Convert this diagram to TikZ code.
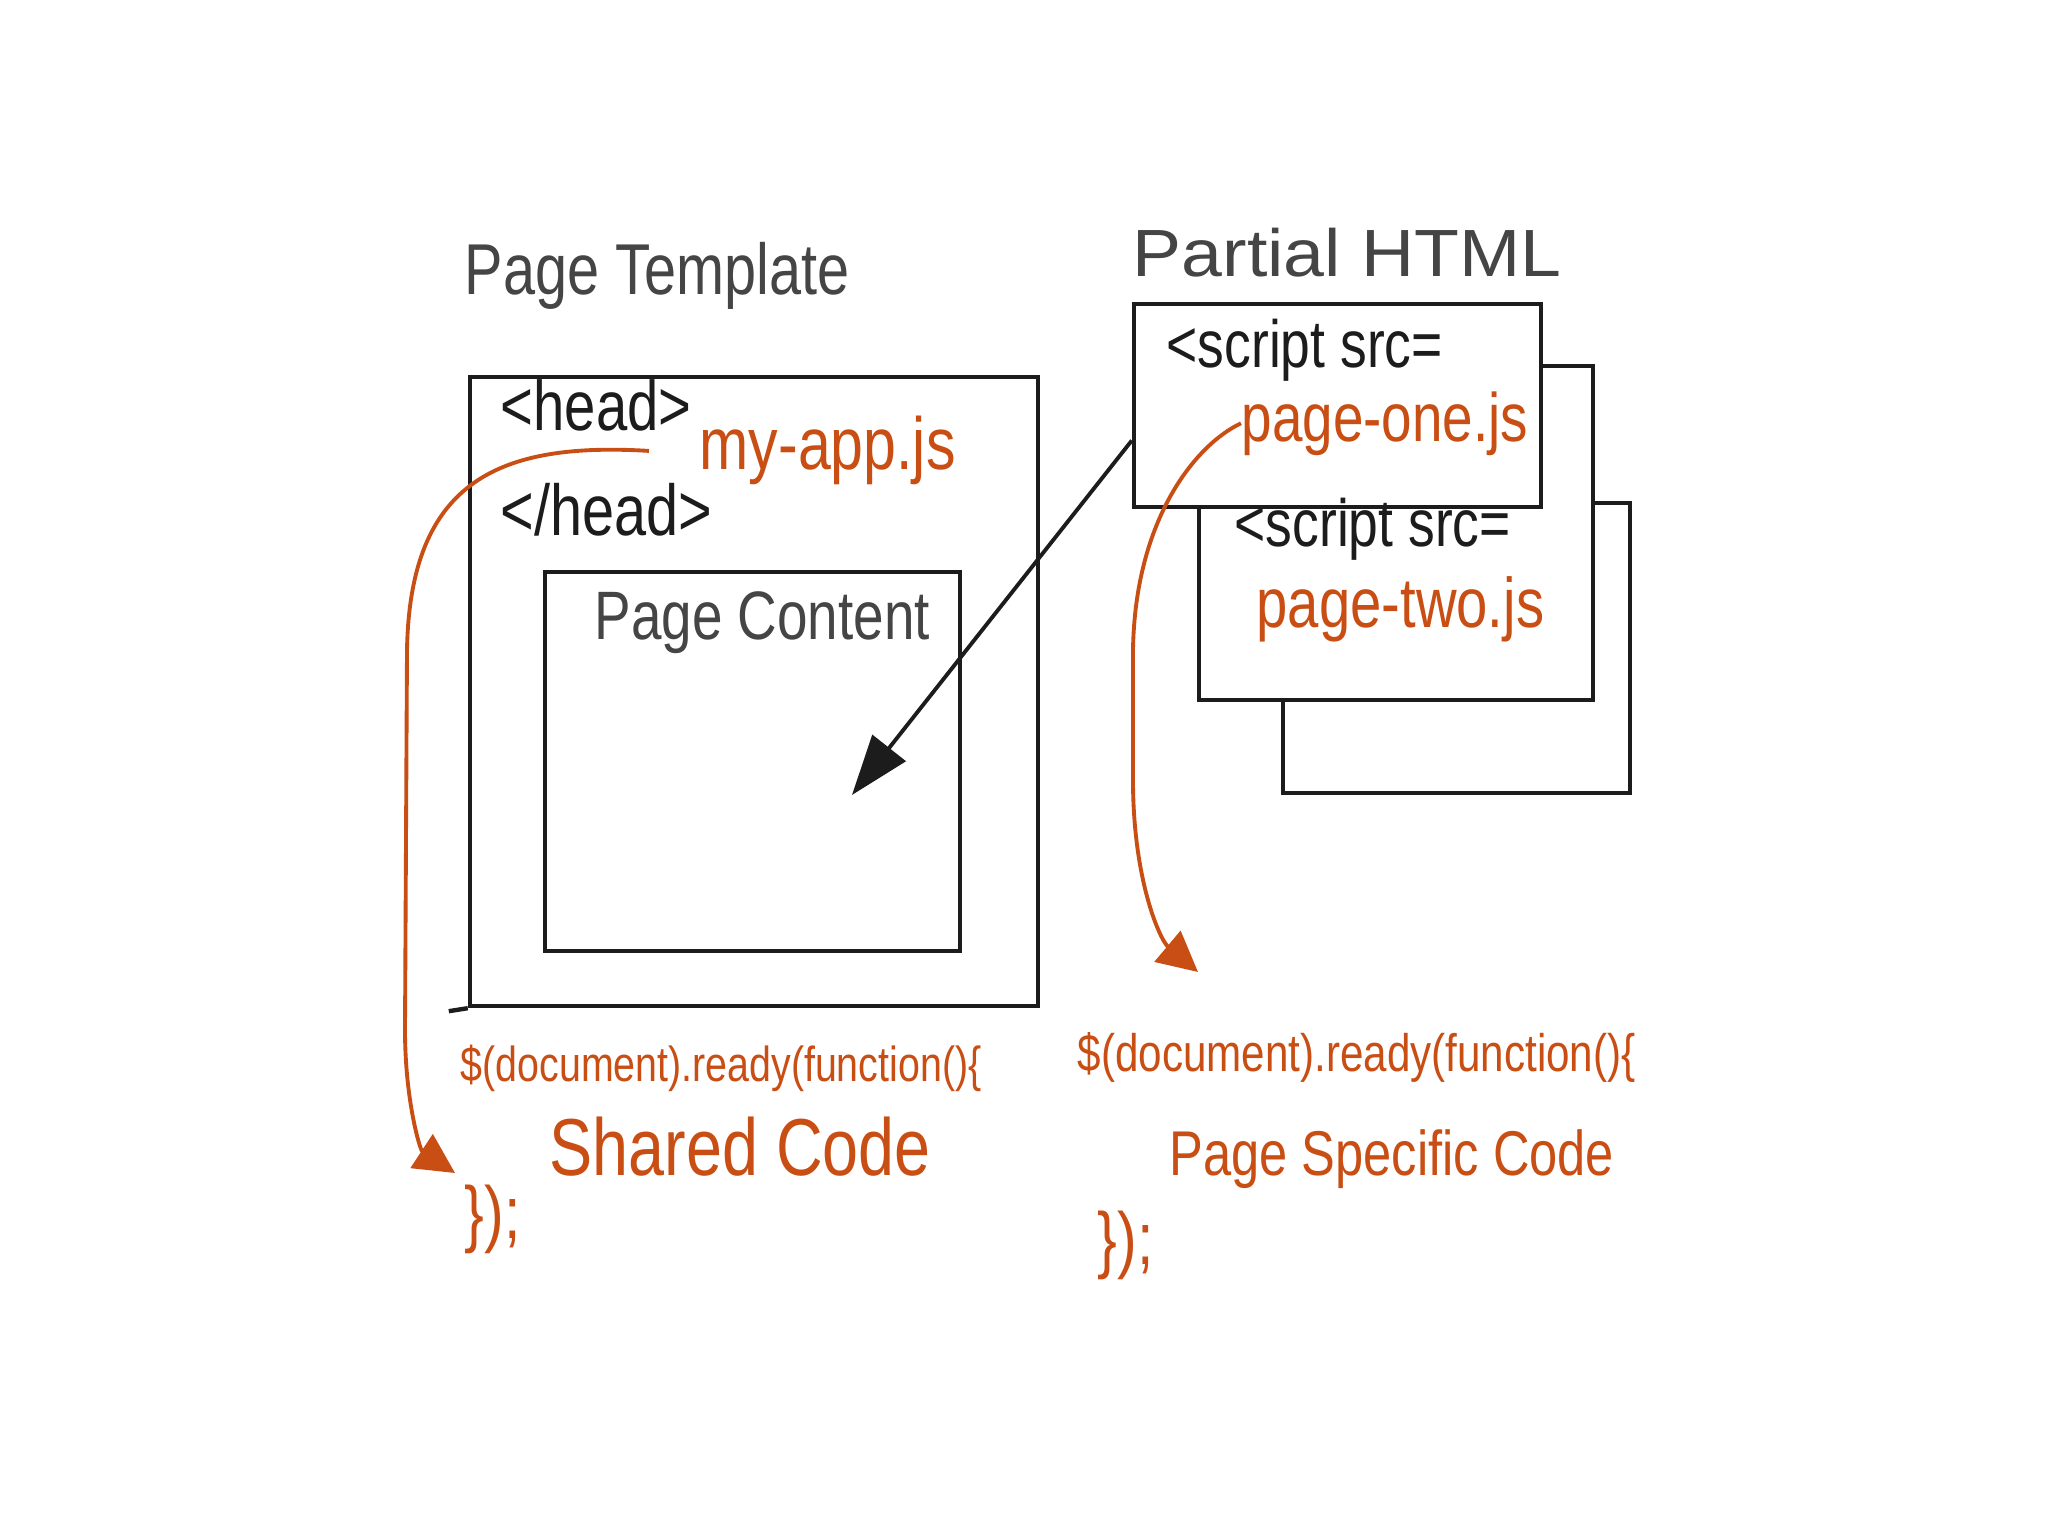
\documentclass[tikz,border=0pt]{standalone}
\usepackage{fontspec}
\newfontfamily\handfont[FakeStretch=0.8]{Liberation Sans}
\newfontfamily\wideface[FakeStretch=1.1]{Liberation Sans}
\usepackage{xcolor}
\usetikzlibrary{arrows.meta}

\definecolor{ink}{HTML}{1C1C1C}
\definecolor{pencil}{HTML}{454545}
\definecolor{jsorange}{HTML}{C94E14}

\begin{document}
\begin{tikzpicture}[
  box/.style={
    rectangle,
    draw=ink,
    line width=1.25pt
  },
  hand/.style={
    font=\handfont\fontsize{#1}{#1}\selectfont,
    inner sep=0pt,
    anchor=base west,
    text=ink
  },
  pointer/.style={-{Triangle[length=6mm,width=4.2mm]}, draw=ink, line width=1.1pt},
  jsline/.style={-{Triangle[length=4mm,width=4mm]}, draw=jsorange, line width=1.1pt}
]

\fill[white] (0,0) rectangle (20.48,-15.36);
\useasboundingbox (0,0) rectangle (20.48,-15.36);

% page template
\node[box, minimum width=5.68cm, minimum height=6.29cm] (tmpl) at (7.54,-6.915) {};
\draw[ink, line width=1.25pt] (tmpl.south west) -- ++(-0.19,-0.03);
\node[box, minimum width=4.15cm, minimum height=3.79cm] (content) at (7.525,-7.615) {};

\node[hand=20.5, text=pencil] (tmpltitle) at (4.64,-2.95) {Page Template};
\node[hand=20] (headopen) at (5.00,-4.31) {<head>};
\node[hand=21, text=jsorange] (myapp) at (6.99,-4.70) {my-app.js};
\node[hand=20.5] (headclose) at (5.00,-5.35) {</head>};
\node[hand=19.5, text=pencil] (contenttitle) at (5.94,-6.40) {Page Content};

% partial html, back to front
\node[box, fill=white, minimum width=3.47cm, minimum height=2.90cm] (pthree) at (14.565,-6.48) {};
\node[box, fill=white, minimum width=3.94cm, minimum height=3.34cm] (ptwo) at (13.96,-5.33) {};
\node[box, fill=white, minimum width=4.07cm, minimum height=2.03cm] (pone) at (13.375,-4.055) {};

\node[hand=19, font=\wideface\fontsize{19}{19}\selectfont, text=pencil] (parttitle) at (11.32,-2.77) {Partial HTML};
\node[hand=19] (srcone) at (11.66,-3.68) {<script src=};
\node[hand=19.5, text=jsorange] (ponejs) at (12.41,-4.41) {page-one.js};
\node[hand=19] (srctwo) at (12.34,-5.46) {<script src=};
\node[hand=20, text=jsorange] (ptwojs) at (12.56,-6.27) {page-two.js};

% ready blocks
\node[hand=14, text=jsorange] (readyone) at (4.60,-10.81) {\$(document).ready(function()\{};
\node[hand=23, text=jsorange] (shared) at (5.49,-11.75) {Shared Code};
\node[hand=21, text=jsorange] (closeone) at (4.64,-12.38) {\});};

\node[hand=15, text=jsorange] (readytwo) at (10.77,-10.71) {\$(document).ready(function()\{};
\node[hand=18, text=jsorange] (specific) at (11.69,-11.75) {Page Specific Code};
\node[hand=21, text=jsorange] (closetwo) at (10.97,-12.64) {\});};

% connectors
\coordinate (drop) at (8.52,-7.95);
\coordinate (sharedin) at (4.55,-11.73);
\coordinate (specin) at (11.98,-9.72);

\draw[pointer] ([yshift=-3.5mm]pone.west) -- (drop);
\draw[jsline] ([xshift=-5mm]myapp.west) .. controls (5.0,-4.42) and (4.1,-4.8) .. (4.07,-6.5)
  -- (4.05,-10.3) .. controls (4.05,-11.0) and (4.2,-11.5) .. (sharedin);
\draw[jsline] (ponejs.west) .. controls (11.95,-4.45) and (11.35,-5.2) .. (11.33,-6.5)
  -- (11.33,-7.8) .. controls (11.33,-8.8) and (11.6,-9.4) .. (specin);

\end{tikzpicture}
\end{document}
